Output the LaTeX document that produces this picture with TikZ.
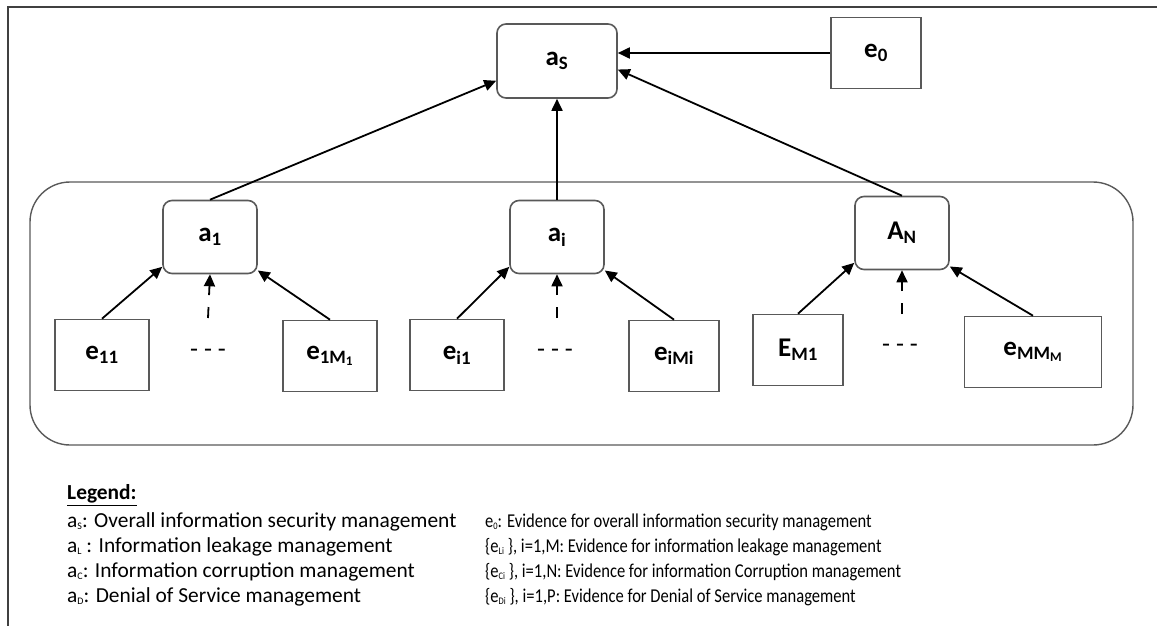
\documentclass[tikz,border=0pt]{standalone}
\usepackage{fontspec}
\setmainfont{Carlito}
\usetikzlibrary{arrows.meta,positioning}
\newcommand\lsub[1]{\raisebox{-2pt}{\fontsize{10}{10}\selectfont #1}}
\newcommand\evtext[1]{\scalebox{0.845}[1]{#1}}
\tikzset{
  goal/.style={draw=black!65, line width=1.6pt, rounded corners=9pt, minimum width=94pt, minimum height=73pt, inner sep=2pt, font=\fontsize{27}{30}\selectfont\bfseries},
  evid/.style={draw=black!65, line width=1.6pt, minimum width=94pt, minimum height=71pt, inner sep=2pt, font=\fontsize{27}{30}\selectfont\bfseries},
  link/.style={-{Triangle[length=12pt,width=11pt]}, line width=1.8pt},
  hidden/.style={link, dash pattern=on 11pt off 12pt on 40pt},
  dots/.style={font=\fontsize{26}{28}\selectfont, inner sep=0pt},
  legline/.style={anchor=west, inner sep=0pt, font=\fontsize{21.4}{23}\selectfont},
  evline/.style={anchor=west, inner sep=0pt, font=\fontsize{19.6}{22}\selectfont}
}

\begin{document}
\begin{tikzpicture}[x=1pt, y=-1pt]
\useasboundingbox (0,0) rectangle (1157,626);
% page frame and the sub-goal group
\draw[black!75, line width=2.2pt] (8,626) -- (8,7) -- (1157,7);
\draw[black!65, line width=1.4pt, rounded corners=40pt] (30,182) rectangle (1133,445);

% top goal and its own evidence
\node[goal, minimum width=120pt, minimum height=74pt] (as) at (557,61) {a\textsubscript{S}};
\node[evid, minimum width=90pt] (e0) at (876,53) {e\textsubscript{0}};

% sub-goals
\node[goal] (a1) at (210,237) {a\textsubscript{1}};
\node[goal] (ai) at (557,237) {a\textsubscript{i}};
\node[goal] (aN) at (902,233) {A\textsubscript{N}};

% evidence under each sub-goal
\node[evid] (e11)  at (102,355) {e\textsubscript{11}};
\node[evid] (e1M)  at (330,356) {e\textsubscript{1M\textsubscript{1}}};
\node[evid] (ei1)  at (457,355) {e\textsubscript{i1}};
\node[evid, minimum width=90pt] (eiM) at (674,356) {e\textsubscript{iMi}};
\node[evid, minimum width=90pt] (eM1) at (798,350) {E\textsubscript{M1}};
\node[evid, minimum width=137pt] (eMM) at (1033,352) {e\textsubscript{MM\textsubscript{M}}};

\node[dots] (d1) at (208,353) {- - -};
\node[dots] (di) at (555,353) {- - -};
\node[dots] (dN) at (900,348) {- - -};
\coordinate (h1) at (208,318);
\coordinate (hi) at (557,318);
\coordinate (hN) at (902,314);

% connectors
\draw[link] (e0.west) -- (e0.west -| as.east);
\draw[link] (a1.north) -- (as.198);
\draw[link] (ai.north) -- (as.south);
\draw[link] (aN.north) -- (as.-8);

\draw[link] (e11.north) -- (a1.212);
\draw[link] (e1M.north) -- (a1.-35);
\draw[hidden] (h1) -- (a1.south);
\draw[link] (ei1.north) -- (ai.212);
\draw[link] (eiM.north) -- (ai.-35);
\draw[hidden] (hi) -- (ai.south);
\draw[link] (eM1.north) -- (aN.212);
\draw[link] (eMM.north) -- (aN.-35);
\draw[hidden] (hN) -- (aN.south);

% legend
\node[legline] (lg)  at (67,495) {\underline{\textbf{Legend:}}};
\node[legline] (l1)  at (67,522) {a\lsub{S}: Overall information security management};
\node[legline] (l2)  at (67,547) {a\lsub{L} : Information leakage management};
\node[legline] (l3)  at (67,572) {a\lsub{C}: Information corruption management};
\node[legline] (l4)  at (67,597) {a\lsub{D}: Denial of Service management};
\node[evline] (r1)  at (485,522) {\evtext{e\lsub{0}: Evidence for overall information security management}};
\node[evline] (r2)  at (485,547) {\evtext{\{e\lsub{Li} \}, i=1,M: Evidence for information leakage management}};
\node[evline] (r3)  at (485,572) {\evtext{\{e\lsub{Ci} \}, i=1,N: Evidence for information Corruption management}};
\node[evline] (r4)  at (485,597) {\evtext{\{e\lsub{Di} \}, i=1,P: Evidence for Denial of Service management}};
\end{tikzpicture}
\end{document}
